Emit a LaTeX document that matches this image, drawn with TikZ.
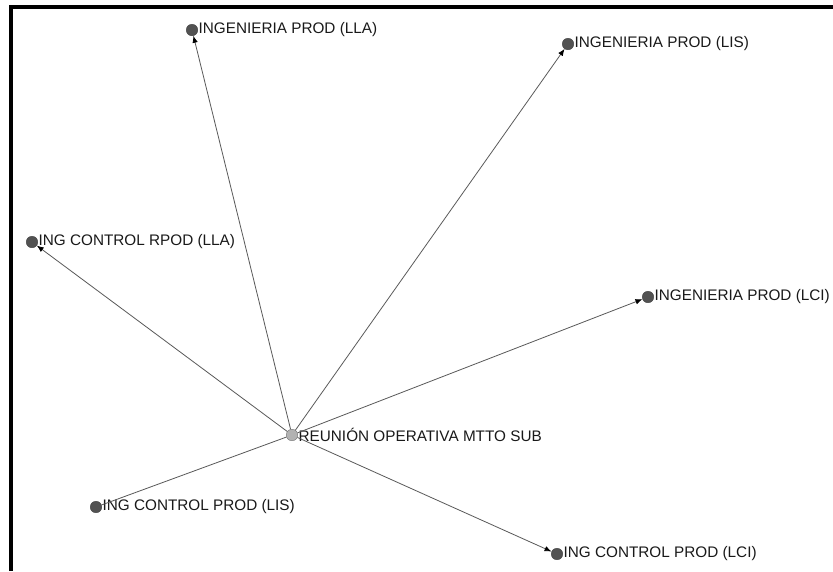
\documentclass[tikz,border=0pt]{standalone}
\usepackage{fontspec}
\setmainfont{Liberation Sans}
\usetikzlibrary{arrows.meta}
\begin{document}
\begin{tikzpicture}[x=1pt,y=-1pt,
  actor/.style={circle,inner sep=0pt,minimum size=11.5pt,fill=black!68,draw=black!75,line width=0.4pt},
  hub/.style={circle,inner sep=0pt,minimum size=11.5pt,fill=black!30,draw=black!55,line width=0.4pt},
  tag/.style={anchor=west,inner sep=0pt,font=\fontsize{15.3}{17}\selectfont,text=black!90},
  tie/.style={draw=black!65,line width=0.8pt,-{Latex[length=7pt,width=5.5pt,black]}},
  plain/.style={draw=black!65,line width=0.8pt}]
  % canvas and frame
  \useasboundingbox (0,0) rectangle (833,571);
  \fill[white] (0,0) rectangle (833,571);
  \draw[line width=3.5pt] (11,571) -- (11,7) -- (833,7);
  % nodes
  \node[hub]   (reu)  at (292,435) {};
  \node[actor] (ipla) at (192,30)  {};
  \node[actor] (ipls) at (568,44)  {};
  \node[actor] (icrl) at (32,242)  {};
  \node[actor] (iplc) at (648,297) {};
  \node[actor] (icls) at (96,507)  {};
  \node[actor] (iclc) at (557,554) {};
  % labels
  \node[tag] (treu) at ([xshift=0.5pt]reu.east)  {REUNIÓN OPERATIVA MTTO SUB};
  \node[tag] (tipla) at ([xshift=0.5pt]ipla.east) {INGENIERIA PROD (LLA)};
  \node[tag] (tipls) at ([xshift=0.5pt]ipls.east) {INGENIERIA PROD (LIS)};
  \node[tag] (ticrl) at ([xshift=0.5pt]icrl.east) {ING CONTROL RPOD (LLA)};
  \node[tag] (tiplc) at ([xshift=0.5pt]iplc.east) {INGENIERIA PROD (LCI)};
  \node[tag] (ticls) at ([xshift=0.5pt]icls.east) {ING CONTROL PROD (LIS)};
  \node[tag] (ticlc) at ([xshift=0.5pt]iclc.east) {ING CONTROL PROD (LCI)};
  % ties
  \path[tie] (reu) -- (ipla);
  \path[tie] (reu) -- (ipls);
  \path[tie] (reu) -- (icrl);
  \path[tie] (reu) -- (iplc);
  \path[tie] (reu) -- (iclc);
  \path[plain] (icls) -- (reu);
\end{tikzpicture}
\end{document}
